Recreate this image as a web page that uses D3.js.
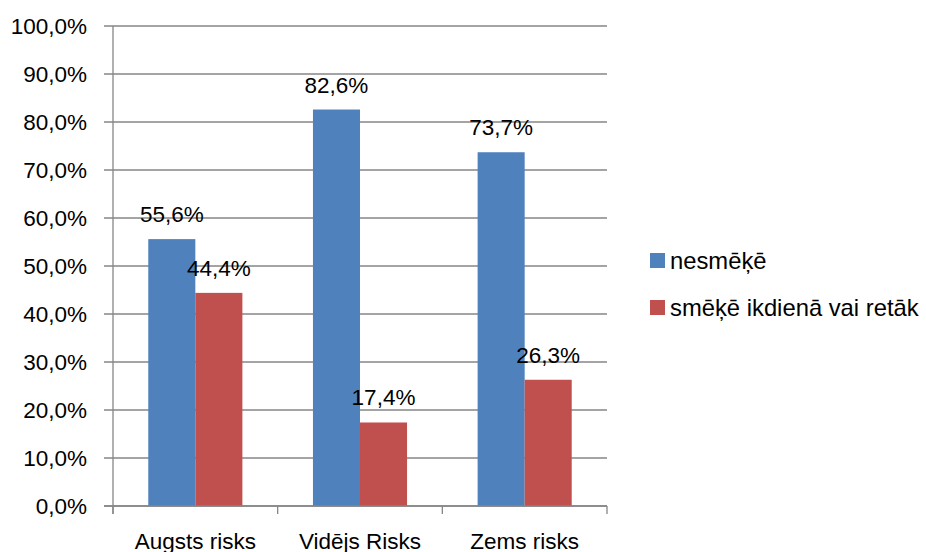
<!DOCTYPE html>
<html>
<head>
<meta charset="utf-8">
<script src="https://cdn.jsdelivr.net/npm/d3@7"></script>
<style>
  html, body { margin: 0; padding: 0; background: #fff; }
  svg text { font-family: "Liberation Sans", Arial, sans-serif; fill: #000; }
</style>
</head>
<body>
<svg id="chart" width="926" height="552"></svg>
<script>
// Smoking status by risk group (share of respondents, %)
const categories = ["Augsts risks", "Vidējs Risks", "Zems risks"];
const seriesNames = ["nesmēķē", "smēķē ikdienā vai retāk"];
const nonSmokers = [55.6, 82.6, 73.7];
const smokers = [44.4, 17.4, 26.3];
const yTicks = [0, 10, 20, 30, 40, 50, 60, 70, 80, 90, 100];
const colors = ["#4F81BD", "#C0504D"];

const series = [nonSmokers, smokers];
const fmt = v => v.toFixed(1).replace(".", ",") + "%";

const svg = d3.select("#chart");
const plot = { left: 113, right: 607, top: 26, bottom: 506 };
const fontSize = 22.5;
const axisColor = "#868686";

const x = d3.scaleBand().domain(categories).range([plot.left, plot.right]).paddingInner(0).paddingOuter(0);
const y = d3.scaleLinear().domain([0, 100]).range([plot.bottom, plot.top]);

// bar placement inside each category: gap of 75% of a bar width on each side
const barW = x.bandwidth() / (2 + 1.5);
const gap = barW * 0.75;
const xs = d3.scaleBand().domain(d3.range(series.length)).range([gap, x.bandwidth() - gap]).padding(0);

// horizontal gridlines (extend past the axis as tick marks)
svg.append("g").selectAll("line").data(yTicks).join("line")
  .attr("x1", plot.left - 9).attr("x2", plot.right)
  .attr("y1", d => y(d)).attr("y2", d => y(d))
  .attr("stroke", axisColor).attr("stroke-width", 1.3);

// y tick labels
svg.append("g").selectAll("text").data(yTicks).join("text")
  .attr("x", 87).attr("y", d => y(d))
  .attr("text-anchor", "end").attr("dominant-baseline", "central")
  .attr("font-size", fontSize)
  .text(d => d.toFixed(1).replace(".", ",") + "%");

// vertical axis line
svg.append("line")
  .attr("x1", plot.left).attr("x2", plot.left)
  .attr("y1", plot.top).attr("y2", plot.bottom + 8)
  .attr("stroke", axisColor).attr("stroke-width", 1.3);

// bars
const groups = svg.append("g").selectAll("g").data(categories).join("g")
  .attr("transform", d => `translate(${x(d)},0)`);

groups.selectAll("rect")
  .data((d, i) => series.map((s, k) => ({ k, v: s[i] })))
  .join("rect")
  .attr("x", d => xs(d.k))
  .attr("width", xs.bandwidth())
  .attr("y", d => y(d.v))
  .attr("height", d => y(0) - y(d.v))
  .attr("fill", d => colors[d.k]);

// value labels
groups.selectAll("text.val")
  .data((d, i) => series.map((s, k) => ({ k, v: s[i] })))
  .join("text").attr("class", "val")
  .attr("x", d => xs(d.k) + xs.bandwidth() / 2)
  .attr("y", d => y(d.v) - 17)
  .attr("text-anchor", "middle")
  .attr("font-size", fontSize)
  .text(d => fmt(d.v));

// x axis line and category dividers
svg.append("line")
  .attr("x1", plot.left - 9).attr("x2", plot.right)
  .attr("y1", plot.bottom).attr("y2", plot.bottom)
  .attr("stroke", axisColor).attr("stroke-width", 1.3);

const dividers = categories.map(c => x(c)).concat([plot.right]);
svg.append("g").selectAll("line").data(dividers).join("line")
  .attr("x1", d => d).attr("x2", d => d)
  .attr("y1", plot.bottom).attr("y2", plot.bottom + 8)
  .attr("stroke", axisColor).attr("stroke-width", 1.3);

// category labels
svg.append("g").selectAll("text").data(categories).join("text")
  .attr("x", d => x(d) + x.bandwidth() / 2)
  .attr("y", 549)
  .attr("text-anchor", "middle")
  .attr("font-size", fontSize)
  .text(d => d);

// legend
const legend = svg.append("g").selectAll("g").data(seriesNames).join("g")
  .attr("transform", (d, i) => `translate(650, ${260 + i * 47})`);
legend.append("rect")
  .attr("x", 0).attr("y", -7).attr("width", 15).attr("height", 15)
  .attr("fill", (d, i) => colors[i]);
legend.append("text")
  .attr("x", 20).attr("y", 0)
  .attr("dominant-baseline", "central")
  .attr("font-size", 23.8)
  .text(d => d);
</script>
</body>
</html>
